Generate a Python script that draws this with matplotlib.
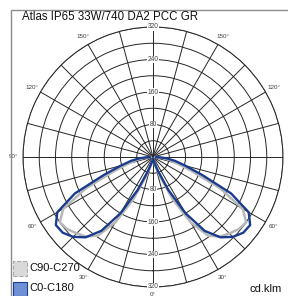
import numpy as np
import matplotlib.pyplot as plt
from matplotlib.patches import Rectangle

plt.rcParams['font.family'] = ['Liberation Sans', 'DejaVu Sans']

# gamma angle from nadir (deg) and luminous intensity (cd/klm)
gamma = [0, 5, 10, 15, 20, 25, 30, 35, 40, 45, 50, 55, 60, 65, 70, 75, 80, 85, 90]
c0_c180 = [4, 6, 10, 18, 38, 90, 160, 222, 258, 278, 290, 292, 272, 212, 128, 82, 55, 32, 8]
c90_c270 = [4, 6, 12, 24, 52, 115, 186, 236, 256, 266, 276, 280, 255, 182, 102, 62, 40, 22, 6]

ring_values = [80, 160, 240, 320]
angle_labels = [30, 60, 90, 120, 150]
title = "Atlas IP65 33W/740 DA2 PCC GR"

W, H = 288, 296
fig = plt.figure(figsize=(W / 100, H / 100), dpi=100)

# polar axes: centre (153,157) px, radius 130 px
cx, cy, R = 153, 157, 130
ax = fig.add_axes([(cx - R) / W, (H - cy - R) / H, 2 * R / W, 2 * R / H],
                  projection='polar')
ax.set_theta_zero_location('S')
ax.set_ylim(0, 320)
ax.set_yticks(np.arange(40, 321, 40))
ax.set_yticklabels([])
ax.set_xticks(np.radians(np.arange(0, 360, 15)))
ax.set_xticklabels([])
ax.grid(True, color='#262626', lw=0.7)
ax.spines['polar'].set_color('#262626')
ax.spines['polar'].set_linewidth(0.7)
ax.set_facecolor('white')


def full_curve(vals):
    g = np.radians(gamma)
    th = np.concatenate([-g[::-1], g[1:]])
    r = np.concatenate([np.array(vals)[::-1], np.array(vals)[1:]])
    return th, r


th, r = full_curve(c90_c270)
ax.plot(th, r, color='#b8b8b8', lw=1.8, zorder=5)
th, r = full_curve(c0_c180)
ax.plot(th, r, color='#1a3c8e', lw=1.7, zorder=6)

# radial value labels on the vertical axis
for v in ring_values:
    for t in (0, np.pi):
        ax.text(t, v, str(v), ha='center', va='center', fontsize=4.8,
                color='#404040', zorder=7,
                bbox=dict(facecolor='white', edgecolor='none', pad=0.3))

# angle labels (the right-hand 90° falls outside the picture)
for a in angle_labels:
    for s in (1, -1):
        if a == 90 and s == 1:
            continue
        ax.text(np.radians(s * a), 343, f"{a}°", ha='center', va='center',
                fontsize=4.5, color='#404040')
ax.text(0, 338, "0°", ha='center', va='center', fontsize=4.5, color='#404040')

# frame
fig.patches.append(Rectangle((11 / W, -0.1), 1.2, 1 - 10 / H + 0.1,
                             transform=fig.transFigure, fill=False,
                             edgecolor='#8c8c8c', lw=1.0))

fig.text(22 / W, 1 - 17 / H, title, ha='left', va='center', fontsize=8.3,
         color='#111111')

# legend
fig.patches.append(Rectangle((13 / W, 1 - 276 / H), 14 / W, 15 / H,
                             transform=fig.transFigure, facecolor='#d9d9d9',
                             edgecolor='#a8a8a8', lw=0.8, ls='--'))
fig.text(29 / W, 1 - 268 / H, "C90-C270", ha='left', va='center', fontsize=8,
         color='#111111')
fig.patches.append(Rectangle((13 / W, 1 - 296 / H), 14 / W, 14 / H,
                             transform=fig.transFigure, facecolor='#6f8fd6',
                             edgecolor='#1c3f91', lw=0.8))
fig.text(29 / W, 1 - 288 / H, "C0-C180", ha='left', va='center', fontsize=8,
         color='#111111')
fig.text(282 / W, 1 - 289 / H, "cd.klm", ha='right', va='center', fontsize=8,
         color='#111111')

fig.savefig('out.png', dpi=100)
